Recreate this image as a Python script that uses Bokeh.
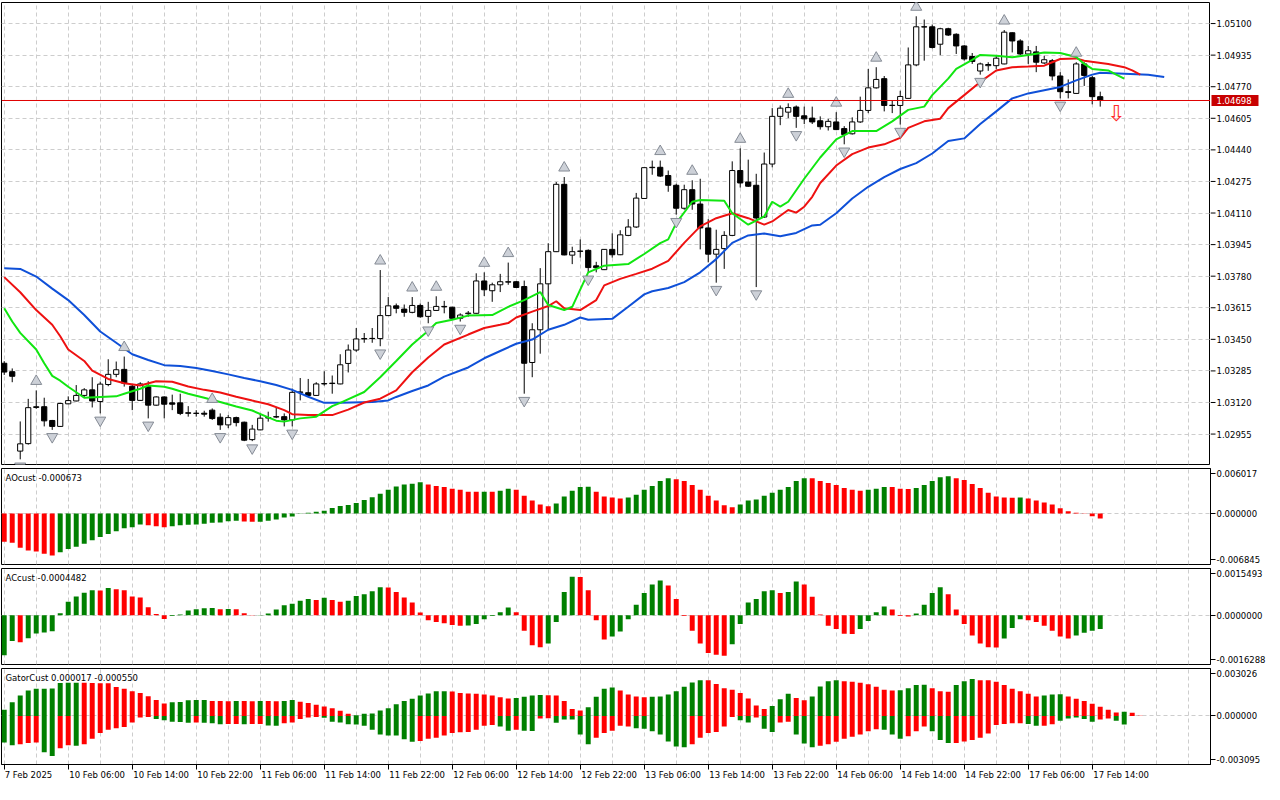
from bokeh.plotting import figure
from bokeh.layouts import column, row
from bokeh.models import (ColumnDataSource, Range1d, FixedTicker, Span, Label,
                          LinearAxis, Grid)
from bokeh.core.properties import value
from bokeh.embed import file_html
from bokeh.resources import INLINE

# ---------------- data (EURUSD H1) ----------------
OPEN = [1.03325,1.03281,1.02866,1.02905,1.03094,1.03098,1.03026,1.02995,1.03113,1.03128,
        1.03157,1.03186,1.03125,1.03214,1.03267,1.03293,1.03205,1.03131,1.03203,1.03106,
        1.03149,1.03118,1.03118,1.03066,1.03064,1.03064,1.03080,1.03043,1.03003,1.03041,
        1.03017,1.02926,1.02977,1.03041,1.03046,1.03046,1.03029,1.03173,1.03171,1.03157,
        1.03217,1.03219,1.03217,1.03324,1.03394,1.03454,1.03454,1.03454,1.03574,1.03625,
        1.03608,1.03591,1.03627,1.03570,1.03601,1.03620,1.03618,1.03560,1.03584,1.03586,
        1.03755,1.03704,1.03735,1.03749,1.03751,1.03726,1.03329,1.03500,1.03740,1.03908,
        1.04260,1.03890,1.03911,1.03915,1.03834,1.03814,1.03920,1.03892,1.03993,1.04037,
        1.04186,1.04347,1.04349,1.04306,1.04255,1.04135,1.04232,1.04157,1.04032,1.03895,
        1.03924,1.03993,1.04332,1.04272,1.04255,1.04089,1.04366,1.04615,1.04637,1.04664,
        1.04618,1.04606,1.04592,1.04561,1.04586,1.04551,1.04524,1.04586,1.04646,1.04764,
        1.04812,1.04672,1.04672,1.04709,1.04884,1.05083,1.05083,1.04992,1.05073,1.05044,
        1.04983,1.04928,1.04852,1.04880,1.04880,1.04889,1.05052,1.05009,1.04941,1.04952,
        1.04894,1.04906,1.04826,1.04744,1.04735,1.04889,1.04817,1.04718]
HIGH = [1.03336,1.03298,1.03021,1.03139,1.03183,1.03145,1.03029,1.03118,1.03152,1.03211,
        1.03195,1.03252,1.03229,1.03346,1.03334,1.03360,1.03217,1.03226,1.03231,1.03152,
        1.03152,1.03161,1.03166,1.03101,1.03080,1.03077,1.03089,1.03063,1.03054,1.03046,
        1.03020,1.03003,1.03063,1.03072,1.03097,1.03063,1.03193,1.03248,1.03243,1.03226,
        1.03283,1.03261,1.03372,1.03423,1.03509,1.03483,1.03509,1.03812,1.03671,1.03637,
        1.03632,1.03671,1.03637,1.03646,1.03675,1.03651,1.03620,1.03586,1.03598,1.03795,
        1.03800,1.03746,1.03792,1.03851,1.03755,1.03757,1.03534,1.03822,1.03952,1.04272,
        1.04298,1.03934,1.03972,1.03920,1.03855,1.03920,1.04004,1.04020,1.04078,1.04215,
        1.04347,1.04384,1.04384,1.04332,1.04263,1.04258,1.04281,1.04289,1.04078,1.04023,
        1.04015,1.04380,1.04448,1.04389,1.04315,1.04426,1.04658,1.04672,1.04683,1.04672,
        1.04666,1.04666,1.04615,1.04602,1.04637,1.04564,1.04610,1.04718,1.04863,1.04872,
        1.04826,1.04698,1.04749,1.04975,1.05138,1.05121,1.05095,1.05078,1.05078,1.05049,
        1.04987,1.04946,1.04896,1.04898,1.04932,1.05066,1.05054,1.05018,1.04983,1.04983,
        1.04932,1.04915,1.04846,1.04808,1.04898,1.04898,1.04826,1.04744]
LOW = [1.03264,1.03226,1.02823,1.02900,1.03087,1.02995,1.02977,1.02992,1.03111,1.03126,
       1.03149,1.03094,1.03063,1.03205,1.03252,1.03203,1.03080,1.03128,1.03037,1.03103,
       1.03037,1.03080,1.03054,1.03046,1.03046,1.03046,1.03029,1.02977,1.02986,1.02995,
       1.02918,1.02918,1.02975,1.03020,1.03038,1.02995,1.02995,1.03131,1.03149,1.03155,
       1.03208,1.03166,1.03215,1.03277,1.03385,1.03432,1.03432,1.03414,1.03572,1.03586,
       1.03568,1.03586,1.03563,1.03534,1.03599,1.03586,1.03557,1.03543,1.03568,1.03584,
       1.03676,1.03646,1.03697,1.03735,1.03718,1.03166,1.03252,1.03375,1.03500,1.03906,
       1.03889,1.03843,1.03877,1.03800,1.03800,1.03812,1.03877,1.03890,1.03989,1.04032,
       1.04184,1.04310,1.04298,1.04221,1.04101,1.04127,1.04127,1.03920,1.03852,1.03746,
       1.03818,1.03989,1.04243,1.04246,1.03723,1.04084,1.04349,1.04569,1.04606,1.04555,
       1.04575,1.04575,1.04546,1.04541,1.04543,1.04469,1.04520,1.04581,1.04632,1.04760,
       1.04641,1.04632,1.04572,1.04707,1.04877,1.04906,1.04970,1.04935,1.05035,1.04941,
       1.04906,1.04889,1.04833,1.04853,1.04863,1.04887,1.04949,1.04935,1.04889,1.04846,
       1.04889,1.04803,1.04709,1.04709,1.04733,1.04774,1.04678,1.04666]
CLOSE = [1.03279,1.03257,1.02904,1.03093,1.03098,1.03024,1.02995,1.03115,1.03130,1.03157,
         1.03186,1.03128,1.03216,1.03267,1.03291,1.03221,1.03131,1.03217,1.03106,1.03149,
         1.03111,1.03111,1.03063,1.03064,1.03063,1.03059,1.03036,1.03003,1.03041,1.03015,
         1.02923,1.02981,1.03038,1.03039,1.03044,1.03029,1.03173,1.03175,1.03157,1.03217,
         1.03219,1.03221,1.03317,1.03394,1.03452,1.03452,1.03455,1.03574,1.03625,1.03612,
         1.03591,1.03627,1.03568,1.03601,1.03622,1.03622,1.03560,1.03577,1.03587,1.03755,
         1.03709,1.03735,1.03751,1.03751,1.03721,1.03325,1.03500,1.03740,1.03908,1.04260,
         1.03891,1.03908,1.03910,1.03825,1.03824,1.03920,1.03892,1.03996,1.04037,1.04188,
         1.04347,1.04349,1.04303,1.04255,1.04135,1.04232,1.04157,1.04032,1.03895,1.03920,
         1.03993,1.04332,1.04267,1.04250,1.04084,1.04366,1.04615,1.04658,1.04661,1.04615,
         1.04602,1.04586,1.04561,1.04589,1.04546,1.04520,1.04586,1.04646,1.04764,1.04808,
         1.04672,1.04673,1.04719,1.04884,1.05083,1.05082,1.04975,1.05073,1.05040,1.04983,
         1.04915,1.04902,1.04889,1.04886,1.04919,1.05055,1.05009,1.04941,1.04958,1.04898,
         1.04911,1.04826,1.04744,1.04740,1.04889,1.04829,1.04718,1.04698]

# Alligator lines: (bar, price)
JAW = [(0,1.03821),(2,1.03818),(4,1.03778),(6,1.03715),(8,1.03655),(10,1.03577),(12,1.03491),
       (14,1.03432),(16,1.03372),(18,1.03342),(20,1.03315),(22,1.03311),(24,1.03300),(26,1.03284),
       (28,1.03267),(30,1.03248),(32,1.03231),(34,1.03211),(36,1.03186),(38,1.03150),(40,1.03118),
       (42,1.03118),(46,1.03123),(48,1.03131),(49,1.03149),(51,1.03180),(53,1.03209),(55,1.03255),
       (58,1.03303),(60,1.03351),(62,1.03389),(64,1.03427),(66,1.03449),(68,1.03500),(70,1.03526),
       (72,1.03564),(73,1.03552),(76,1.03557),(78,1.03620),(80,1.03685),(81,1.03701),(83,1.03718),
       (85,1.03749),(87,1.03800),(89,1.03869),(91,1.03954),(93,1.03993),(95,1.04003),(97,1.03989),
       (99,1.04006),(101,1.04045),(102,1.04049),(104,1.04109),(106,1.04186),(108,1.04247),
       (110,1.04298),(112,1.04340),(114,1.04371),(116,1.04421),(118,1.04486),(120,1.04500),
       (122,1.04575),(124,1.04641),(126,1.04709),(128,1.04735),(130,1.04752),(132,1.04769),
       (134,1.04803),(136,1.04833),(137,1.04843),(140,1.04838),(143,1.04833),(145,1.04821)]
TEETH = [(0,1.03775),(2,1.03696),(4,1.03603),(6,1.03526),(7,1.03466),(8,1.03397),(10,1.03337),
         (11,1.03286),(13,1.03243),(15,1.03221),(17,1.03209),(19,1.03231),(21,1.03228),(23,1.03204),
         (25,1.03186),(27,1.03172),(29,1.03150),(31,1.03130),(33,1.03111),(35,1.03080),(36,1.03059),
         (38,1.03054),(41,1.03054),(43,1.03083),(45,1.03120),(47,1.03140),(49,1.03183),(51,1.03278),
         (53,1.03355),(55,1.03423),(58,1.03475),(60,1.03509),(62,1.03526),(63,1.03535),(64,1.03564),
         (66,1.03595),(68,1.03624),(69,1.03649),(70,1.03612),(72,1.03603),(74,1.03655),(75,1.03732),
         (77,1.03766),(79,1.03792),(81,1.03819),(83,1.03860),(85,1.03954),(87,1.04040),(89,1.04083),
         (91,1.04109),(93,1.04083),(95,1.04049),(96,1.04066),(98,1.04126),(99,1.04112),(100,1.04143),
         (101,1.04195),(102,1.04267),(104,1.04358),(106,1.04418),(108,1.04452),(110,1.04469),
         (112,1.04503),(113,1.04555),(115,1.04589),(117,1.04603),(118,1.04658),(120,1.04726),
         (122,1.04795),(124,1.04855),(126,1.04872),(128,1.04875),(130,1.04880),(131,1.04898),
         (132,1.04915),(134,1.04918),(135,1.04906),(138,1.04889),(140,1.04872),(141,1.04855),
         (142,1.04833)]
LIPS = [(0,1.03612),(1,1.03543),(2,1.03484),(4,1.03397),(5,1.03325),(6,1.03259),(7,1.03234),
        (8,1.03202),(10,1.03145),(12,1.03149),(14,1.03152),(15,1.03166),(17,1.03192),(18,1.03209),
        (20,1.03202),(21,1.03192),(23,1.03166),(25,1.03145),(27,1.03123),(29,1.03099),(31,1.03078),
        (33,1.03042),(34,1.03025),(35,1.03020),(37,1.03037),(39,1.03046),(41,1.03101),(42,1.03118),
        (45,1.03175),(47,1.03252),(49,1.03337),(51,1.03423),(53,1.03495),(54,1.03535),(56,1.03552),
        (58,1.03574),(61,1.03577),(63,1.03620),(65,1.03655),(67,1.03697),(68,1.03629),(70,1.03603),
        (71,1.03620),(73,1.03800),(75,1.03835),(78,1.03843),(80,1.03896),(82,1.03953),(83,1.03972),
        (84,1.04057),(86,1.04169),(87,1.04178),(90,1.04174),(91,1.04109),(93,1.04049),(95,1.04092),
        (96,1.04169),(97,1.04143),(98,1.04169),(100,1.04289),(102,1.04400),(104,1.04495),
        (106,1.04538),(109,1.04538),(111,1.04589),(113,1.04649),(115,1.04666),(116,1.04726),
        (118,1.04812),(119,1.04863),(121,1.04910),(122,1.04936),(124,1.04932),(126,1.04924),
        (128,1.04936),(130,1.04949),(132,1.04946),(134,1.04925),(135,1.04889),(136,1.04863),
        (138,1.04855),(139,1.04833),(140,1.04812)]

UP_FRACTALS = [4, 15, 26, 47, 51, 54, 60, 63, 70, 82, 86, 92, 98, 104, 109, 114, 125, 134]
DOWN_FRACTALS = [2, 6, 12, 18, 27, 31, 36, 47, 53, 57, 65, 73, 84, 89, 94, 99, 105, 112, 122, 132]
SELL_SIGNAL_BAR = 139
SELL_SIGNAL_PRICE = 1.04632
LAST_PRICE = 1.04698

PRICE_TICKS = [1.05100, 1.04935, 1.04770, 1.04605, 1.04440, 1.04275, 1.04110,
               1.03945, 1.03780, 1.03615, 1.03450, 1.03285, 1.03120, 1.02955]
PRICE_RANGE = (1.02796, 1.05210)

AO = [-0.00381,-0.00394,-0.00459,-0.00498,-0.00511,-0.00542,-0.00563,-0.00520,-0.00477,-0.00446,
      -0.00407,-0.00360,-0.00316,-0.00277,-0.00238,-0.00199,-0.00186,-0.00147,-0.00160,-0.00173,
      -0.00186,-0.00173,-0.00160,-0.00152,-0.00147,-0.00139,-0.00126,-0.00121,-0.00104,-0.00100,
      -0.00108,-0.00113,-0.00112,-0.00100,-0.00082,-0.00056,-0.00043,-0.00005,0.00009,0.00022,
      0.00035,0.00074,0.00100,0.00113,0.00139,0.00178,0.00217,0.00264,0.00316,0.00360,
      0.00386,0.00399,0.00416,0.00386,0.00368,0.00355,0.00329,0.00316,0.00290,0.00289,
      0.00291,0.00290,0.00303,0.00329,0.00316,0.00238,0.00173,0.00121,0.00095,0.00134,
      0.00225,0.00303,0.00355,0.00356,0.00290,0.00225,0.00212,0.00199,0.00212,0.00251,
      0.00316,0.00368,0.00433,0.00472,0.00459,0.00433,0.00381,0.00316,0.00238,0.00173,
      0.00108,0.00082,0.00121,0.00173,0.00186,0.00238,0.00277,0.00316,0.00355,0.00433,
      0.00472,0.00470,0.00433,0.00407,0.00381,0.00342,0.00316,0.00303,0.00316,0.00329,
      0.00355,0.00353,0.00329,0.00327,0.00342,0.00381,0.00433,0.00485,0.00498,0.00472,
      0.00446,0.00394,0.00342,0.00277,0.00225,0.00212,0.00211,0.00213,0.00199,0.00173,
      0.00147,0.00121,0.00069,0.00030,0.00009,0.00002,-0.00039,-0.00067]
AO_COLOR_RUNS = [("r",7),("g",11),("r",3),("g",9),("r",2),("g",21),("r",7),("g",1),("r",1),
                 ("g",2),("r",5),("g",5),("r",4),("g",6),("r",8),("g",9),("r",7),("g",3),
                 ("r",3),("g",5),("r",8),("g",1),("r",10)]
AO_RANGE = (-0.006845, 0.006017)

AC = [-0.00132,-0.00085,-0.00089,-0.00076,-0.00060,-0.00057,-0.00053,0.00007,0.00045,0.00062,
      0.00075,0.00083,0.00082,0.00090,0.00086,0.00083,0.00062,0.00059,0.00027,0.00004,
      -0.00012,-0.00002,0.00003,0.00016,0.00020,0.00023,0.00024,0.00020,0.00021,0.00020,
      0.00007,-0.00001,0.00001,0.00006,0.00019,0.00033,0.00038,0.00048,0.00054,0.00051,
      0.00058,0.00051,0.00045,0.00048,0.00064,0.00070,0.00080,0.00093,0.00092,0.00077,
      0.00059,0.00042,0.00009,-0.00016,-0.00022,-0.00026,-0.00032,-0.00035,-0.00034,-0.00029,
      -0.00013,-0.00002,0.00010,0.00026,0.00010,-0.00051,-0.00099,-0.00106,-0.00093,-0.00022,
      0.00077,0.00128,0.00127,0.00083,-0.00016,-0.00080,-0.00070,-0.00054,-0.00013,0.00035,
      0.00074,0.00102,0.00115,0.00099,0.00054,-0.00002,-0.00051,-0.00093,-0.00125,-0.00131,
      -0.00134,-0.00096,-0.00029,0.00042,0.00054,0.00080,0.00083,0.00074,0.00077,0.00112,
      0.00102,0.00061,0.00003,-0.00035,-0.00045,-0.00061,-0.00062,-0.00045,-0.00019,0.00010,
      0.00029,0.00019,-0.00002,-0.00004,0.00006,0.00035,0.00074,0.00093,0.00070,0.00019,
      -0.00029,-0.00067,-0.00093,-0.00106,-0.00107,-0.00077,-0.00042,-0.00013,-0.00016,-0.00022,
      -0.00035,-0.00051,-0.00070,-0.00077,-0.00067,-0.00058,-0.00051,-0.00045]
AC_COLOR_RUNS = [("g",2),("r",1),("g",9),("r",1),("g",1),("r",7),("g",6),("r",1),("g",1),
                 ("r",3),("g",7),("r",1),("g",1),("r",2),("g",5),("r",10),("g",6),("r",4),
                 ("g",4),("r",4),("g",7),("r",8),("g",6),("r",1),("g",2),("r",7),("g",4),
                 ("r",3),("g",4),("r",7),("g",3),("r",6),("g",4)]
AC_RANGE = (-0.0016288, 0.0015493)

GATOR_UP = [0.00039,0.00088,0.00131,0.00163,0.00173,0.00174,0.00175,0.00210,0.00211,0.00212,
            0.00211,0.00210,0.00209,0.00208,0.00184,0.00173,0.00157,0.00147,0.00126,0.00102,
            0.00080,0.00088,0.00089,0.00100,0.00101,0.00102,0.00096,0.00095,0.00094,0.00096,
            0.00095,0.00094,0.00096,0.00095,0.00094,0.00096,0.00102,0.00090,0.00082,0.00071,
            0.00061,0.00049,0.00033,0.00014,0.00004,0.00014,0.00015,0.00035,0.00049,0.00075,
            0.00096,0.00110,0.00131,0.00143,0.00157,0.00158,0.00156,0.00147,0.00143,0.00142,
            0.00137,0.00131,0.00120,0.00112,0.00114,0.00122,0.00131,0.00133,0.00132,0.00131,
            0.00096,0.00045,0.00035,0.00055,0.00122,0.00173,0.00182,0.00163,0.00137,0.00124,
            0.00120,0.00122,0.00124,0.00137,0.00157,0.00186,0.00214,0.00228,0.00227,0.00204,
            0.00177,0.00167,0.00147,0.00112,0.00067,0.00045,0.00063,0.00106,0.00141,0.00114,
            0.00100,0.00124,0.00188,0.00222,0.00228,0.00222,0.00218,0.00212,0.00202,0.00186,
            0.00167,0.00163,0.00164,0.00177,0.00198,0.00199,0.00177,0.00157,0.00155,0.00198,
            0.00222,0.00235,0.00228,0.00227,0.00218,0.00198,0.00173,0.00157,0.00141,0.00124,
            0.00131,0.00137,0.00138,0.00124,0.00110,0.00096,0.00078,0.00059,0.00039,0.00022,
            0.00027,0.00020,0.000017]
GATOR_UP_COLOR_RUNS = [("g",10),("r",11),("g",5),("r",3),("g",1),("r",2),("g",1),("r",2),
                       ("g",2),("r",7),("g",12),("r",8),("g",4),("r",5),("g",4),("r",4),
                       ("g",7),("r",8),("g",3),("r",2),("g",4),("r",7),("g",4),("r",3),
                       ("g",3),("r",8),("g",3),("r",7),("g",1),("r",2)]
GATOR_DN = [-0.00169,-0.00186,-0.00180,-0.00173,-0.00169,-0.00231,-0.00255,-0.00206,-0.00186,-0.00190,
            -0.00180,-0.00145,-0.00108,-0.00088,-0.00078,-0.00071,-0.00041,-0.00010,-0.00006,-0.00020,
            -0.00027,-0.00037,-0.00039,-0.00043,-0.00042,-0.00043,-0.00047,-0.00053,-0.00052,-0.00051,
            -0.00053,-0.00052,-0.00051,-0.00061,-0.00063,-0.00047,-0.00041,-0.00020,-0.00010,-0.00006,
            -0.00012,-0.00037,-0.00041,-0.00053,-0.00054,-0.00063,-0.00088,-0.00118,-0.00124,-0.00125,
            -0.00149,-0.00165,-0.00159,-0.00145,-0.00139,-0.00124,-0.00108,-0.00104,-0.00102,-0.00088,
            -0.00063,-0.00057,-0.00067,-0.00094,-0.00088,-0.00094,-0.00096,-0.00016,-0.00014,-0.00043,
            -0.00022,-0.00022,-0.00118,-0.00180,-0.00139,-0.00108,-0.00094,-0.00063,-0.00067,-0.00078,
            -0.00082,-0.00098,-0.00118,-0.00163,-0.00194,-0.00200,-0.00180,-0.00139,-0.00108,-0.00102,
            -0.00067,-0.00006,-0.00027,-0.00041,-0.00010,-0.00082,-0.00102,-0.00041,-0.00037,-0.00118,
            -0.00175,-0.00200,-0.00190,-0.00180,-0.00165,-0.00145,-0.00133,-0.00118,-0.00098,-0.00084,
            -0.00088,-0.00118,-0.00145,-0.00129,-0.00098,-0.00067,-0.00098,-0.00153,-0.00173,-0.00172,
            -0.00163,-0.00153,-0.00139,-0.00112,-0.00057,-0.00051,-0.00047,-0.00046,-0.00051,-0.00063,
            -0.00062,-0.00053,-0.00031,-0.00016,-0.00010,-0.00020,-0.00037,-0.00022,-0.00016,-0.00031,
            -0.00055]
GATOR_DN_COLOR_RUNS = [("g",2),("r",3),("g",2),("r",2),("g",1),("r",9),("g",5),("r",1),("g",3),
                       ("r",2),("g",1),("r",2),("g",2),("r",5),("g",12),("r",10),("g",2),("r",1),
                       ("g",2),("r",2),("g",5),("r",5),("g",7),("r",6),("g",2),("r",1),("g",2),
                       ("r",2),("g",3),("r",8),("g",3),("r",3),("g",3),("r",9),("g",2),("r",2),
                       ("g",5),("r",2),("g",2)]
GATOR_RANGE = (-0.003095, 0.003026)

TIME_LABEL_BARS = list(range(0, 137, 8))
TIME_LABELS = ["7 Feb 2025", "10 Feb 06:00", "10 Feb 14:00", "10 Feb 22:00", "11 Feb 06:00",
               "11 Feb 14:00", "11 Feb 22:00", "12 Feb 06:00", "12 Feb 14:00", "12 Feb 22:00",
               "13 Feb 06:00", "13 Feb 14:00", "13 Feb 22:00", "14 Feb 06:00", "14 Feb 14:00",
               "14 Feb 22:00", "17 Feb 06:00", "17 Feb 14:00"]

# ---------------- style ----------------
FONT = "DejaVu Sans"
FS = "8.5px"
FW = 1209            # frame width in px
SCALE_W = 54         # width of the price-scale column in px
BAR_PX = 8           # pixels per bar
XR = Range1d(-0.34, -0.34 + FW / BAR_PX)
GRID_COLOR = "#cdcdcd"
COL = {"g": "#008000", "r": "#ff0000"}
JAW_C, TEETH_C, LIPS_C = "#0f50d8", "#ee1111", "#11e611"
TICK_LEN, LABEL_GAP = 5, 1


def expand(runs):
    out = []
    for c, n in runs:
        out += [COL[c]] * n
    return out


def base_fig(frame_h, yrng, grid_y, with_axis, border_bottom=2):
    p = figure(frame_width=FW, frame_height=frame_h, x_range=XR,
               y_range=yrng, output_backend="svg", toolbar_location=None,
               x_axis_location=None, y_axis_location="right" if with_axis else None,
               min_border_left=1, min_border_right=SCALE_W if with_axis else 0,
               min_border_top=2, min_border_bottom=border_bottom,
               background_fill_color="white", border_fill_color="white")
    p.outline_line_color = "black"
    p.outline_line_width = 1
    p.xgrid.grid_line_color = None
    p.ygrid.grid_line_color = None
    p.add_layout(Grid(dimension=0, ticker=FixedTicker(ticks=list(range(0, 152, 4))),
                      grid_line_color=GRID_COLOR, grid_line_dash="4 3"))
    p.add_layout(Grid(dimension=1, ticker=FixedTicker(ticks=grid_y),
                      grid_line_color=GRID_COLOR, grid_line_dash="4 3"))
    return p


def make_panel(frame_h, yrng, ticks, labels, grid_y, border_bottom=2):
    p = base_fig(frame_h, Range1d(*yrng), grid_y, True, border_bottom)
    ax = p.yaxis[0]
    ax.ticker = FixedTicker(ticks=ticks)
    ax.major_label_overrides = {t: s for t, s in zip(ticks, labels)}
    ax.major_tick_out = TICK_LEN
    ax.major_tick_in = 0
    ax.minor_tick_line_color = None
    ax.axis_line_color = "black"
    ax.major_tick_line_color = "black"
    ax.major_label_text_font = FONT
    ax.major_label_text_font_size = FS
    ax.major_label_text_color = "black"
    ax.major_label_standoff = LABEL_GAP
    return p


def sub_ticks(rng, frame_h, decimals):
    lo, hi = rng
    inset = (hi - lo) / frame_h * 5
    ticks = [hi - inset, 0.0, lo + inset]
    labels = [f"{hi:.{decimals}f}", f"{0:.{decimals}f}", f"{lo:.{decimals}f}"]
    return ticks, labels


def panel_title(p, frame_h, text):
    p.add_layout(Label(x=4, y=frame_h - 4, x_units="screen", y_units="screen", text=text,
                       text_font=FONT, text_font_size=FS, text_color="black",
                       text_baseline="top", text_align="left"))


# ---------------- main price panel ----------------
MAIN_H = 462
price_range = Range1d(*PRICE_RANGE)
p_main = base_fig(MAIN_H, price_range, PRICE_TICKS, False)
bars = list(range(len(OPEN)))
csrc = ColumnDataSource(dict(
    x=bars, high=HIGH, low=LOW,
    top=[max(o, c) for o, c in zip(OPEN, CLOSE)],
    bottom=[min(o, c) for o, c in zip(OPEN, CLOSE)],
    fill=["white" if c >= o else "black" for o, c in zip(OPEN, CLOSE)]))
p_main.segment(x0="x", y0="low", x1="x", y1="high", source=csrc, line_color="black", line_width=1)
p_main.vbar(x="x", width=0.65, top="top", bottom="bottom", source=csrc,
            fill_color="fill", line_color="black", line_width=1)

for pts, colr in ((JAW, JAW_C), (TEETH, TEETH_C), (LIPS, LIPS_C)):
    xs, ys = zip(*pts)
    p_main.line(list(xs), list(ys), line_color=colr, line_width=2)

p_main.scatter(UP_FRACTALS, [HIGH[b] + 0.00048 for b in UP_FRACTALS],
               marker="triangle", size=11, fill_color="#cdd1d8", line_color="#858b95",
               line_width=1)
p_main.scatter(DOWN_FRACTALS, [LOW[b] - 0.00036 for b in DOWN_FRACTALS],
               marker="inverted_triangle", size=11, fill_color="#cdd1d8", line_color="#858b95",
               line_width=1)

p_main.add_layout(Span(location=LAST_PRICE, dimension="width", line_color="#e00000",
                       line_width=1))
p_main.text(x=[SELL_SIGNAL_BAR], y=[SELL_SIGNAL_PRICE], text=["\u21e9"],
            text_font=value("DejaVu Sans"), text_font_size="22px", text_color="#ff2a2a",
            text_align="center", text_baseline="middle")

# price scale column of the main panel (shares the price range), with the last-price tag
p_scale = figure(frame_width=SCALE_W, frame_height=MAIN_H, x_range=Range1d(0, SCALE_W),
                 y_range=price_range, output_backend="svg", toolbar_location=None,
                 x_axis_location=None, y_axis_location=None, min_border_left=0,
                 min_border_right=0, min_border_top=2, min_border_bottom=2,
                 background_fill_color="white", border_fill_color="white")
p_scale.outline_line_color = None
p_scale.xgrid.grid_line_color = None
p_scale.ygrid.grid_line_color = None
p_scale.segment(x0=0, x1=TICK_LEN, y0=PRICE_TICKS, y1=PRICE_TICKS, line_color="black",
                line_width=1)
p_scale.text(x=TICK_LEN + LABEL_GAP, y=PRICE_TICKS, text=[f"{t:.5f}" for t in PRICE_TICKS],
             text_font=value(FONT), text_font_size=FS, text_color="black",
             text_align="left", text_baseline="middle")
p_scale.rect(x=[(1 + SCALE_W - 6) / 2], y=[LAST_PRICE], width=SCALE_W - 7, height=11,
             height_units="screen", fill_color="#c80000", line_color=None)
p_scale.text(x=TICK_LEN + LABEL_GAP, y=[LAST_PRICE], text=[f"{LAST_PRICE:.5f}"],
             text_font=value(FONT), text_font_size=FS, text_color="white",
             text_align="left", text_baseline="middle")

# ---------------- AO ----------------
SUB_H = 96
t, l = sub_ticks(AO_RANGE, SUB_H, 6)
p_ao = make_panel(SUB_H, AO_RANGE, t, l, [0.0])
p_ao.vbar(x=list(range(len(AO))), top=AO, bottom=0, width=0.62,
          fill_color=expand(AO_COLOR_RUNS), line_color=None)
panel_title(p_ao, SUB_H, "AOcust -0.000673")

# ---------------- AC ----------------
t, l = sub_ticks(AC_RANGE, SUB_H, 7)
p_ac = make_panel(SUB_H, AC_RANGE, t, l, [0.0])
p_ac.vbar(x=list(range(len(AC))), top=AC, bottom=0, width=0.62,
          fill_color=expand(AC_COLOR_RUNS), line_color=None)
panel_title(p_ac, SUB_H, "ACcust -0.0004482")

# ---------------- Gator ----------------
t, l = sub_ticks(GATOR_RANGE, SUB_H, 6)
p_g = make_panel(SUB_H, GATOR_RANGE, t, l, [0.0], border_bottom=18)
p_g.vbar(x=list(range(len(GATOR_UP))), top=GATOR_UP, bottom=0, width=0.62,
         fill_color=expand(GATOR_UP_COLOR_RUNS), line_color=None)
p_g.vbar(x=list(range(len(GATOR_DN))), top=0, bottom=GATOR_DN, width=0.62,
         fill_color=expand(GATOR_DN_COLOR_RUNS), line_color=None)
panel_title(p_g, SUB_H, "GatorCust 0.000017 -0.000550")

tick_axis = LinearAxis(ticker=FixedTicker(ticks=TIME_LABEL_BARS), major_tick_out=5,
                       major_tick_in=0, minor_tick_line_color=None, major_label_text_alpha=0,
                       major_label_text_font_size="1px", major_label_standoff=0,
                       axis_line_color="black", major_tick_line_color="black")
p_g.add_layout(tick_axis, "below")
label_pos = [b + (1 + len(s) * 4.65 / 2) / BAR_PX for b, s in zip(TIME_LABEL_BARS, TIME_LABELS)]
label_axis = LinearAxis(ticker=FixedTicker(ticks=label_pos),
                        major_label_overrides={p: s for p, s in zip(label_pos, TIME_LABELS)},
                        major_tick_out=0, major_tick_in=0, minor_tick_line_color=None,
                        major_tick_line_color=None, axis_line_color=None,
                        major_label_standoff=0, major_label_text_font=FONT,
                        major_label_text_font_size=FS, major_label_text_color="black")
p_g.add_layout(label_axis, "below")

layout = column(row(p_main, p_scale, spacing=0), p_ao, p_ac, p_g, spacing=0)
open("out.html", "w").write(file_html(layout, INLINE))
